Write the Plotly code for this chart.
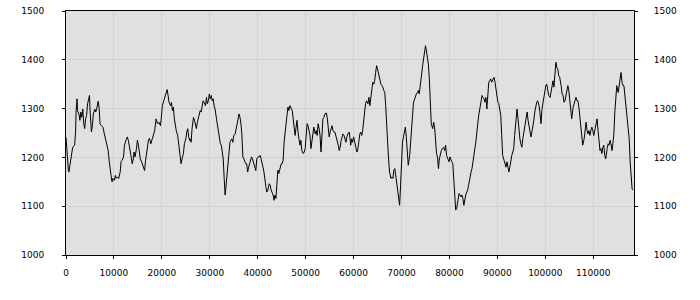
import plotly.graph_objects as go

x_pos = [
    0, 200, 500, 600, 900, 1100, 1400, 1800, 2000, 2100, 2300, 2400, 2700, 2900, 3100, 3300, 3500, 3700, 3900, 4100,
    4300, 4500, 4700, 4900, 5000, 5300, 5500, 5700, 6000, 6200, 6400, 6700, 6900, 7100, 7400, 7700, 8000, 8200, 8500, 8800,
    9000, 9200, 9400, 9600, 9800, 10100, 10300, 10500, 10800, 11000, 11300, 11500, 11700, 12000, 12200, 12500, 12800, 13000, 13200, 13400,
    13600, 13800, 14000, 14200, 14400, 14700, 14900, 15100, 15300, 15500, 15800, 16000, 16200, 16400, 16600, 16900, 17200, 17400, 17700, 18000,
    18300, 18500, 18800, 19100, 19400, 19700, 19900,
    20100, 20400, 20600, 20800, 21100, 21300, 21500, 21800, 22000, 22200, 22400, 22600, 22800, 23000, 23300, 23500, 23700, 23900, 24000, 24300,
    24500, 24700, 25000, 25200, 25400, 25600, 25800, 26000, 26100, 26300, 26600, 26800, 27000, 27200, 27400, 27600, 27800, 28000, 28200, 28400,
    28600, 28800, 29100, 29300, 29500, 29700, 29900, 30100, 30300, 30500, 30700, 30900, 31100, 31400, 31600, 31800, 32000, 32200, 32400, 32600,
    32800, 33000, 33200, 33400, 33600, 33800, 34000, 34200, 34400, 34600, 34800, 35000, 35300, 35500, 35700, 35900, 36100, 36300, 36500, 36700,
    36900, 37100, 37300, 37500, 37700, 37900, 38100, 38300, 38500, 38700, 38900, 39200, 39400, 39600,
    39800, 40100, 40300, 40500, 40700, 40900, 41100, 41300, 41500, 41700, 41900, 42100, 42400, 42600, 42800, 43000, 43200, 43400, 43600, 43800,
    44000, 44200, 44400, 44600, 44900, 45100, 45300, 45500, 45700, 45900, 46100, 46300, 46500, 46700, 46900, 47200, 47400, 47600, 47800, 48000,
    48200, 48400, 48600, 48800, 49000, 49200, 49500, 49700, 49900, 50100, 50300, 50500, 50700, 50900, 51100, 51300, 51500, 51700, 52000, 52200,
    52400, 52600, 52800, 53000, 53200, 53400, 53600, 53800, 54000, 54300, 54500, 54700, 54900, 55100, 55300, 55500, 55700, 55900, 56100, 56300,
    56500, 56800, 57000, 57200, 57400, 57600, 57800, 58000, 58200, 58400, 58600, 58800, 59100,
    59200, 59400, 59600, 59800, 60000, 60200, 60400, 60700, 60900, 61100, 61300, 61500, 61700, 61900, 62100, 62300, 62500, 62700, 63000, 63200,
    63400, 63600, 63800, 64000, 64200, 64400, 64600, 64800, 65000, 65300, 65500, 65700, 65900, 66100, 66300, 66500, 66700, 66900, 67100, 67300,
    67500, 67800, 68000, 68200, 68400, 68600, 68800, 69000, 69200, 69400, 69600, 69800, 70000, 70200, 70400, 70600, 70800, 71000, 71200, 71400,
    71700, 71900, 72100, 72300, 72500, 72700, 72900, 73100, 73300, 73500, 73700, 74000, 74200, 74400, 74600, 74800, 75000, 75200, 75400, 75600,
    75800, 76000, 76200, 76500, 76700, 76900, 77100, 77300, 77500, 77700, 77900, 78100, 78300, 78500, 78800,
    79000, 79200, 79400, 79700, 79900, 80100, 80300, 80500, 80700, 80900, 81100, 81300, 81500, 81700, 82000, 82200, 82400, 82600, 82800, 83000,
    83200, 83400, 83600, 83800, 84000, 84300, 84500, 84700, 84900, 85100, 85300, 85500, 85700, 85900, 86100, 86300, 86500, 86800, 87000, 87200,
    87400, 87600, 87800, 88000, 88200, 88400, 88600, 88800, 89100, 89300, 89500, 89700, 89900, 90100, 90300, 90500, 90700, 90900, 91100, 91400,
    91600, 91800, 92000, 92200, 92400, 92600, 92800, 93000, 93200, 93400, 93600, 93900, 94100, 94300, 94500, 94700, 94900, 95100, 95300, 95500,
    95700, 95900, 96200, 96400, 96600, 96800, 97000, 97200, 97400, 97600, 97800, 98000, 98200, 98400,
    98700, 98900, 99100, 99300, 99500, 99700, 99900, 100100, 100300, 100500, 100700, 101000, 101200, 101400, 101600, 101800, 102000, 102200, 102400, 102600,
    102800, 103000, 103300, 103500, 103700, 103900, 104100, 104300, 104500, 104700, 104900, 105100, 105300, 105500, 105800, 106000, 106200, 106400, 106600, 106800,
    107000, 107200, 107400, 107600, 107800, 108100, 108300, 108500, 108700, 108900, 109100, 109300, 109500, 109700, 109900, 110100, 110400, 110600, 110800, 111000,
    111200, 111400, 111600, 111800, 112000, 112200, 112400, 112600, 112900, 113100, 113300, 113500, 113700, 113900, 114100, 114300, 114500, 114700, 114900, 115200,
    115400, 115600, 115800, 116000, 116200, 116400, 116600, 116800, 117000, 117200, 117500, 117700, 117900, 118100, 118300,
]

y_val = [
    1241, 1204, 1173, 1170, 1187, 1197, 1221, 1225, 1252, 1293, 1320, 1296, 1289, 1276, 1293, 1282, 1299, 1269, 1259, 1279,
    1286, 1310, 1323, 1327, 1299, 1252, 1265, 1289, 1299, 1293, 1299, 1315, 1303, 1269, 1265, 1262, 1248, 1238, 1225, 1214,
    1194, 1170, 1163, 1150, 1157, 1153, 1163, 1157, 1160, 1157, 1170, 1192, 1194, 1201, 1225, 1235, 1242, 1235, 1225, 1214,
    1201, 1187, 1194, 1211, 1201, 1218, 1235, 1225, 1211, 1197, 1190, 1184, 1177, 1173, 1194, 1218, 1235, 1239, 1228, 1238,
    1248, 1255, 1279, 1269, 1272, 1265, 1282,
    1306, 1316, 1323, 1330, 1339, 1327, 1313, 1306, 1313, 1296, 1303, 1279, 1265, 1255, 1245, 1231, 1211, 1194, 1187, 1201,
    1208, 1228, 1238, 1252, 1259, 1242, 1235, 1238, 1231, 1259, 1282, 1276, 1265, 1259, 1272, 1279, 1286, 1296, 1293, 1306,
    1316, 1313, 1306, 1323, 1310, 1316, 1330, 1320, 1327, 1316, 1320, 1306, 1299, 1279, 1265, 1255, 1248, 1228, 1225, 1214,
    1197, 1157, 1123, 1143, 1163, 1180, 1197, 1231, 1235, 1238, 1231, 1245, 1248, 1259, 1272, 1286, 1289, 1282, 1269, 1245,
    1201, 1197, 1191, 1187, 1187, 1170, 1180, 1187, 1194, 1201, 1197, 1187, 1177, 1173,
    1197, 1201, 1201, 1204, 1197, 1191, 1180, 1170, 1150, 1140, 1129, 1133, 1146, 1143, 1133, 1129, 1123, 1112, 1123, 1116,
    1143, 1174, 1167, 1177, 1187, 1187, 1194, 1231, 1255, 1276, 1286, 1303, 1296, 1306, 1303, 1296, 1279, 1259, 1245, 1262,
    1276, 1252, 1231, 1225, 1235, 1214, 1208, 1211, 1218, 1245, 1269, 1265, 1255, 1245, 1218, 1235, 1252, 1262, 1248, 1255,
    1245, 1269, 1259, 1245, 1211, 1245, 1279, 1282, 1289, 1291, 1282, 1262, 1242, 1252, 1259, 1265, 1255, 1252, 1252, 1245,
    1238, 1225, 1214, 1221, 1235, 1245, 1248, 1245, 1238, 1231, 1242, 1248, 1252,
    1238, 1225, 1238, 1231, 1242, 1231, 1225, 1211, 1218, 1235, 1248, 1252, 1245, 1255, 1269, 1293, 1310, 1316, 1310, 1323,
    1306, 1320, 1340, 1354, 1350, 1357, 1374, 1388, 1381, 1367, 1361, 1350, 1347, 1344, 1337, 1333, 1306, 1252, 1231, 1197,
    1170, 1157, 1160, 1157, 1174, 1177, 1163, 1150, 1136, 1116, 1102, 1143, 1204, 1231, 1242, 1255, 1262, 1242, 1218, 1184,
    1204, 1238, 1265, 1286, 1313, 1320, 1327, 1330, 1333, 1337, 1330, 1350, 1371, 1388, 1405, 1422, 1429, 1418, 1408, 1391,
    1361, 1306, 1269, 1259, 1272, 1262, 1228, 1208, 1201, 1177, 1197, 1208, 1214, 1218, 1221,
    1214, 1225, 1204, 1197, 1191, 1201, 1194, 1191, 1187, 1157, 1109, 1092, 1095, 1109, 1126, 1123, 1119, 1123, 1116, 1102,
    1116, 1123, 1129, 1133, 1143, 1163, 1170, 1177, 1194, 1204, 1218, 1231, 1245, 1269, 1286, 1296, 1306, 1327, 1323, 1320,
    1313, 1323, 1299, 1333, 1354, 1357, 1361, 1354, 1361, 1364, 1354, 1340, 1327, 1313, 1310, 1299, 1286, 1245, 1204, 1194,
    1187, 1180, 1191, 1177, 1170, 1180, 1197, 1204, 1211, 1218, 1245, 1286, 1299, 1279, 1252, 1238, 1228, 1221, 1238, 1252,
    1262, 1269, 1293, 1276, 1265, 1252, 1242, 1252, 1262, 1276, 1293, 1306, 1313, 1316,
    1306, 1289, 1269, 1299, 1313, 1320, 1330, 1347, 1350, 1340, 1327, 1323, 1337, 1354, 1357, 1344, 1371, 1395, 1384, 1381,
    1367, 1364, 1347, 1330, 1327, 1313, 1316, 1330, 1340, 1347, 1337, 1313, 1296, 1279, 1303, 1310, 1313, 1323, 1316, 1316,
    1303, 1286, 1269, 1255, 1225, 1238, 1262, 1272, 1255, 1248, 1255, 1245, 1255, 1262, 1255, 1245, 1259, 1269, 1279, 1255,
    1225, 1214, 1218, 1208, 1221, 1225, 1204, 1197, 1218, 1228, 1225, 1235, 1228, 1214, 1228, 1248, 1293, 1323, 1347, 1333,
    1347, 1361, 1374, 1354, 1347, 1347, 1327, 1310, 1299, 1265, 1238, 1191, 1157, 1136, 1133,
]

x_ticks = [0, 10000, 20000, 30000, 40000, 50000, 60000, 70000, 80000, 90000, 100000, 110000]
y_ticks = [1000, 1100, 1200, 1300, 1400, 1500]
x_range = [0, 118500]
y_range = [1000, 1500]

fig = go.Figure()
fig.add_trace(go.Scatter(
    x=x_pos, y=y_val, mode="lines",
    line=dict(color="#000000", width=1),
    showlegend=False, hoverinfo="skip",
))
fig.add_trace(go.Scatter(x=[None], y=[None], yaxis="y2", showlegend=False, hoverinfo="skip"))

tick_font = dict(family="DejaVu Sans", size=9, color="#000000")

fig.update_layout(
    width=700, height=300,
    margin=dict(l=66, r=66, t=11, b=45, pad=0, autoexpand=False),
    paper_bgcolor="#ffffff",
    plot_bgcolor="#e0e0e0",
    xaxis=dict(
        range=x_range, tickvals=x_ticks, ticktext=[str(v) for v in x_ticks],
        showgrid=True, gridcolor="#d0d0d0", gridwidth=1,
        showline=True, linecolor="#000000", linewidth=1, mirror=True,
        ticks="outside", ticklen=3, tickcolor="#000000",
        tickfont=tick_font, zeroline=False, ticklabelstandoff=6, automargin=False,
    ),
    yaxis=dict(
        range=y_range, tickvals=y_ticks, ticktext=[str(v) for v in y_ticks],
        showgrid=True, gridcolor="#d0d0d0", gridwidth=1,
        showline=True, linecolor="#000000", linewidth=1, mirror=True,
        ticks="outside", ticklen=3, tickcolor="#000000",
        tickfont=tick_font, zeroline=False, ticklabelstandoff=16, automargin=False,
    ),
    yaxis2=dict(
        range=y_range, tickvals=y_ticks, ticktext=[str(v) for v in y_ticks],
        overlaying="y", side="right", showgrid=False,
        showline=True, linecolor="#000000", linewidth=1,
        ticks="outside", ticklen=3, tickcolor="#000000",
        tickfont=tick_font, zeroline=False, ticklabelstandoff=14, automargin=False,
    ),
)

fig.write_html("out.html")
